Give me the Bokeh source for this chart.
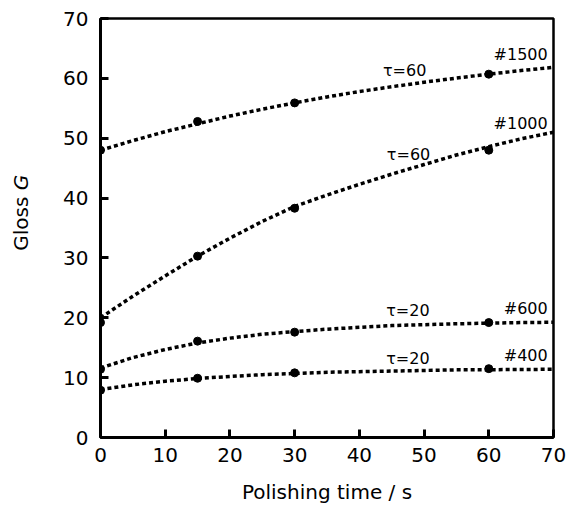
import math
from bokeh.plotting import figure
from bokeh.layouts import row
from bokeh.models import Range1d, FixedTicker
from bokeh.core.properties import value
from bokeh.embed import file_html
from bokeh.resources import INLINE

# measured points
t_pts = [0, 15, 30, 60]
g1500 = [48.0, 52.8, 55.9, 60.7]
g1000 = [19.2, 30.3, 38.3, 48.0]
g600 = [11.4, 16.1, 17.6, 19.2]
g400 = [7.9, 9.9, 10.8, 11.5]

# fitted curves
t_fit = [0, 5, 10, 15, 20, 25, 30, 35, 40, 45, 50, 55, 60, 65, 70]
f1500 = [48.0, 49.6, 51.1, 52.4, 53.7, 54.85, 55.9, 56.9, 57.8, 58.6, 59.35, 60.05, 60.7, 61.3, 61.85]
f1000 = [20.0, 23.6, 27.0, 30.3, 33.3, 36.1, 38.6, 40.5, 42.3, 44.0, 45.6, 47.2, 48.6, 49.9, 51.0]
f600 = [11.6, 13.35, 14.7, 15.8, 16.6, 17.25, 17.7, 18.1, 18.4, 18.7, 18.85, 19.0, 19.1, 19.2, 19.25]
f400 = [8.0, 8.8, 9.4, 9.85, 10.2, 10.5, 10.7, 10.9, 11.0, 11.1, 11.2, 11.3, 11.33, 11.36, 11.4]

grit_labels = ["#1500", "#1000", "#600", "#400"]
tau_labels = ["\u03c4=60", "\u03c4=60", "\u03c4=20", "\u03c4=20"]
ticks = [0, 10, 20, 30, 40, 50, 60, 70]

FONT = "DejaVu Sans"
H = 513

yr = Range1d(0, 70)
p = figure(width=509, height=H, output_backend="svg", toolbar_location=None,
           x_range=Range1d(0, 70), y_range=yr,
           min_border_left=38, min_border_right=16, min_border_top=18, min_border_bottom=76)
p.grid.visible = False
p.background_fill_color = "white"
p.border_fill_color = "white"
p.outline_line_color = "black"
p.outline_line_width = 2.5
p.outline_line_alpha = 1

for ax in (p.xaxis[0], p.yaxis[0]):
    ax.ticker = FixedTicker(ticks=ticks)
    ax.axis_line_width = 3
    ax.axis_line_color = "black"
    ax.major_tick_in = 8
    ax.major_tick_out = 0
    ax.major_tick_line_width = 3
    ax.major_tick_line_color = "black"
    ax.minor_tick_line_color = None
    ax.major_label_text_font = FONT
    ax.major_label_text_font_size = "20px"
    ax.major_label_text_color = "black"
    ax.axis_label_text_font = FONT
    ax.axis_label_text_font_size = "20px"
    ax.axis_label_text_font_style = "normal"
    ax.axis_label_text_color = "black"

p.xaxis.axis_label = "Polishing time / s"
p.xaxis.major_label_standoff = 10
p.xaxis.axis_label_standoff = 15
p.yaxis.major_label_standoff = 12

curves = [f1500, f1000, f600, f400]
points = [g1500, g1000, g600, g400]
for f, g in zip(curves, points):
    p.line(t_fit, f, line_color="black", line_width=3.5, line_dash="4 3")
    p.scatter(t_pts, g, size=8, fill_color="black", line_color="black")

tau_x = [47.0, 47.6, 47.5, 47.5]
tau_y = [61.3, 47.3, 21.2, 13.2]
p.text(tau_x, tau_y, text=tau_labels, text_font=value(FONT), text_font_size="16px",
       text_align="center", text_baseline="middle", text_color="black")
grit_x = [69.1, 69.1, 69.1, 69.1]
grit_y = [64.0, 52.5, 21.5, 13.7]
p.text(grit_x, grit_y, text=grit_labels, text_font=value(FONT), text_font_size="16px",
       text_align="right", text_baseline="middle", text_color="black")

# narrow panel holding the y-axis title with italic G (shares the y scale)
lab = figure(width=60, height=H, output_backend="svg", toolbar_location=None,
             x_range=Range1d(0, 60), y_range=yr,
             x_axis_type=None, y_axis_type=None,
             min_border_left=0, min_border_right=0, min_border_top=18, min_border_bottom=76)
lab.grid.visible = False
lab.outline_line_color = None
lab.background_fill_color = "white"
lab.border_fill_color = "white"
ly = 41.3
lab.text([20], [ly], text=["Gloss "], angle=math.pi / 2, text_font=value(FONT),
         text_font_size="20px", text_align="right", text_baseline="middle", text_color="black")
lab.text([20], [ly], text=["G"], angle=math.pi / 2, text_font=value(FONT),
         text_font_size="20px", text_font_style="italic", text_align="left",
         text_baseline="middle", text_color="black")

open("out.html", "w").write(file_html(row(lab, p), INLINE))
